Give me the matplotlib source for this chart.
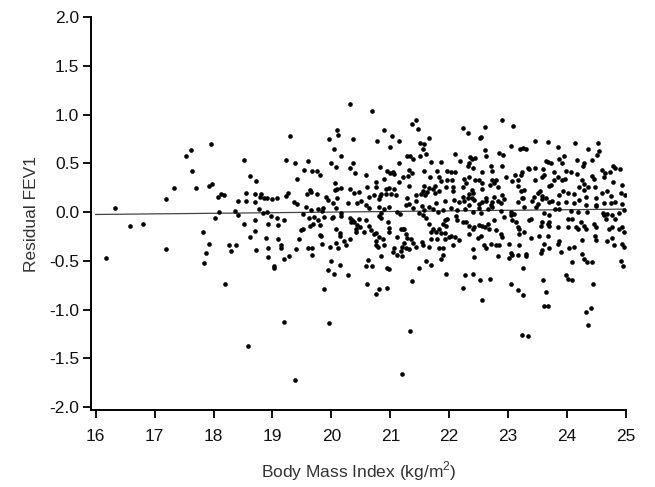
import numpy as np
import matplotlib
matplotlib.use("Agg")
import matplotlib.pyplot as plt

plt.rcParams['font.family'] = ['Liberation Sans', 'DejaVu Sans']
plt.rcParams['mathtext.fontset'] = 'custom'
plt.rcParams['mathtext.rm'] = 'Liberation Sans'

# points, grouped by region
bmi_a = [17.95, 17.61, 17.53, 17.63, 17.33, 17.71, 17.93, 17.98, 18.51, 18.62,
         18.72, 18.55, 18.71, 18.80, 18.79, 18.86, 18.91, 18.12, 18.18, 18.08,
         17.20, 16.33, 16.58, 16.81, 16.17, 17.20, 17.82, 17.92, 17.87, 17.83,
         18.19, 18.02, 18.09, 18.42, 18.55, 18.37, 18.41, 18.52, 18.27, 18.38,
         18.29, 18.70, 18.71, 18.62, 18.72, 18.71, 18.77, 18.84, 18.90, 18.92,
         18.89, 18.92, 18.93, 18.59]
resid_a = [0.70, 0.64, 0.57, 0.42, 0.25, 0.25, 0.27, 0.29, 0.53, 0.37,
           0.32, 0.20, 0.19, 0.19, 0.15, 0.14, 0.14, 0.19, 0.17, 0.15,
           0.13, 0.04, -0.14, -0.12, -0.47, -0.38, -0.20, -0.33, -0.42, -0.52,
           -0.74, -0.06, 0.00, 0.11, 0.11, 0.01, -0.03, -0.12, -0.34, -0.34,
           -0.40, -0.08, -0.19, -0.26, -0.39, 0.10, 0.03, -0.01, 0.00, -0.12,
           -0.27, -0.37, -0.46, -1.37]

bmi_b = [20.31, 20.69, 19.29, 19.96, 20.10, 20.12, 20.36, 20.04, 20.16, 20.89,
         21.03, 21.14, 20.77, 20.99, 21.37, 21.43, 21.47, 21.50, 21.57, 21.56,
         21.61, 21.66, 21.51, 19.23, 19.39, 19.53, 19.61, 19.67, 19.76, 19.80,
         19.42, 19.99, 20.08, 20.31, 20.37, 20.40, 20.59, 20.83, 20.94, 20.99,
         21.04, 21.07, 21.15, 21.28, 21.33, 21.38, 21.31, 21.22, 21.30, 21.37,
         21.58, 21.69, 21.86, 21.68, 21.79, 21.82, 21.86, 21.97, 21.96, 20.90,
         21.14, 20.06, 20.17, 20.10, 20.06, 20.32, 20.39, 20.46, 20.61, 20.76,
         20.76, 20.92, 20.98, 21.06, 21.02, 20.93, 20.85, 21.58, 21.65, 21.72,
         21.76, 21.56, 21.63, 21.75, 21.83, 21.94, 21.31, 19.26, 19.23, 19.63,
         19.66, 19.58, 19.75, 19.91, 20.10, 20.63, 20.72, 20.83, 20.80, 21.10,
         21.28, 21.44, 21.52, 21.59, 19.08, 18.99]
resid_b = [1.11, 1.04, 0.78, 0.75, 0.84, 0.79, 0.75, 0.65, 0.57, 0.84,
           0.78, 0.73, 0.73, 0.67, 0.90, 0.94, 0.85, 0.71, 0.70, 0.65,
           0.60, 0.76, 0.57, 0.53, 0.50, 0.43, 0.52, 0.42, 0.42, 0.38,
           0.34, 0.50, 0.46, 0.45, 0.50, 0.40, 0.38, 0.46, 0.42, 0.40,
           0.41, 0.39, 0.50, 0.57, 0.57, 0.54, 0.43, 0.36, 0.37, 0.40,
           0.42, 0.51, 0.51, 0.36, 0.42, 0.36, 0.32, 0.42, 0.33, 0.34,
           0.31, 0.30, 0.25, 0.24, 0.23, 0.24, 0.20, 0.21, 0.26, 0.31,
           0.26, 0.24, 0.25, 0.24, 0.19, 0.18, 0.18, 0.27, 0.25, 0.24,
           0.27, 0.22, 0.21, 0.20, 0.22, 0.26, 0.27, 0.20, 0.16, 0.23,
           0.21, 0.19, 0.19, 0.15, 0.14, 0.15, 0.17, 0.16, 0.13, 0.17,
           0.14, 0.17, 0.19, 0.17, 0.14, 0.13]

bmi_c = [22.89, 23.08, 22.24, 22.31, 22.60, 22.54, 22.52, 23.04, 23.45, 23.68,
         23.85, 24.13, 24.53, 24.55, 24.51, 24.36, 22.60, 22.85, 22.92, 23.20,
         23.25, 23.31, 22.10, 22.18, 22.36, 22.39, 22.44, 22.34, 22.32, 22.41,
         22.63, 22.55, 22.71, 22.72, 22.89, 23.45, 23.33, 23.35, 23.59, 23.65,
         23.68, 23.72, 23.86, 23.94, 23.92, 23.78, 24.17, 24.29, 24.27, 24.43,
         24.60, 24.65, 24.73, 24.81, 24.89, 24.78, 22.03, 22.10, 22.25, 22.34,
         22.44, 22.51, 22.55, 22.29, 22.23, 22.05, 22.07, 22.06, 22.38, 22.41,
         22.34, 22.55, 22.69, 22.73, 22.80, 22.76, 22.83, 22.90, 22.97, 23.07,
         23.11, 23.17, 23.21, 23.23, 23.16, 23.22, 23.27, 23.46, 23.58, 23.61,
         23.69, 23.72, 23.54, 23.50, 23.57, 23.78, 23.84, 23.92, 23.97, 23.99,
         24.06, 24.17, 23.93, 24.02, 24.11, 23.86, 24.20, 24.29, 24.36, 24.47,
         24.42, 24.46, 24.29, 24.25, 24.63, 24.60, 24.68, 24.78, 24.94, 24.92,
         24.98, 24.74, 24.49, 24.32, 22.23, 22.31, 22.39, 22.62, 22.76, 23.25,
         23.44, 23.64]
resid_c = [0.94, 0.88, 0.86, 0.81, 0.87, 0.77, 0.76, 0.68, 0.73, 0.72,
           0.67, 0.71, 0.71, 0.63, 0.58, 0.65, 0.64, 0.61, 0.59, 0.65,
           0.66, 0.65, 0.60, 0.52, 0.56, 0.54, 0.55, 0.50, 0.47, 0.45,
           0.57, 0.41, 0.47, 0.42, 0.47, 0.45, 0.45, 0.44, 0.44, 0.52,
           0.51, 0.50, 0.54, 0.57, 0.50, 0.41, 0.53, 0.50, 0.47, 0.53,
           0.43, 0.40, 0.41, 0.45, 0.44, 0.47, 0.41, 0.41, 0.34, 0.36,
           0.33, 0.33, 0.30, 0.30, 0.26, 0.33, 0.26, 0.22, 0.23, 0.20,
           0.19, 0.24, 0.28, 0.33, 0.33, 0.30, 0.26, 0.17, 0.36, 0.32,
           0.38, 0.33, 0.38, 0.41, 0.27, 0.22, 0.23, 0.33, 0.36, 0.38,
           0.27, 0.28, 0.22, 0.20, 0.16, 0.33, 0.36, 0.33, 0.34, 0.42,
           0.41, 0.39, 0.22, 0.20, 0.19, 0.17, 0.26, 0.23, 0.26, 0.26,
           0.37, 0.34, 0.29, 0.33, 0.36, 0.20, 0.22, 0.31, 0.28, 0.20,
           0.17, 0.16, 0.14, 0.15, 0.15, 0.14, 0.14, 0.14, 0.15, 0.14,
           0.15, 0.14]

bmi_d = [19.36, 19.41, 19.57, 19.66, 19.77, 19.84, 19.85, 19.95, 20.02, 20.08,
         20.17, 20.02, 20.28, 20.43, 20.51, 20.59, 20.64, 20.81, 20.90, 20.97,
         21.12, 21.17, 21.26, 21.31, 21.38, 21.43, 21.53, 21.58, 21.65, 21.72,
         21.77, 21.81, 21.89, 21.93, 18.98, 19.07, 19.20, 19.09, 19.51, 19.62,
         19.71, 19.77, 19.64, 19.51, 19.49, 19.80, 19.68, 19.88, 20.01, 20.16,
         20.31, 20.35, 20.33, 20.47, 20.43, 20.41, 20.59, 20.56, 20.64, 20.67,
         20.81, 20.84, 20.84, 20.96, 20.97, 20.73, 20.76, 20.98, 20.81, 20.87,
         20.75, 20.79, 20.90, 20.76, 21.18, 21.21, 21.24, 21.12, 21.27, 21.29,
         21.35, 21.24, 21.20, 21.27, 21.32, 21.18, 21.07, 21.04, 21.11, 21.20,
         21.38, 21.43, 21.49, 21.56, 21.61, 21.65, 21.72, 21.69, 21.77, 21.83,
         21.92, 21.89, 21.97, 21.94, 21.86, 21.93, 22.00, 21.54, 21.56, 21.66,
         21.69, 21.80, 21.83, 21.92, 21.90, 21.89, 21.86, 21.94, 19.03, 19.03,
         19.20, 19.28, 19.40, 19.45, 19.09, 19.15, 19.15, 19.60, 19.67, 19.67,
         19.84, 19.97, 20.07, 20.11, 20.22, 20.24, 20.31, 19.80, 19.83, 20.08,
         20.14, 20.15, 20.42, 20.49, 20.39, 19.99, 20.04, 20.14, 19.95, 20.29,
         20.58, 20.62, 20.69, 20.94, 20.97, 20.84, 20.61, 20.81, 20.95, 20.75,
         19.88, 21.37, 21.49, 21.61, 21.69, 19.20, 19.96, 21.33, 19.38, 21.20]
resid_d = [0.10, 0.08, 0.05, 0.02, 0.03, 0.01, 0.04, 0.12, 0.09, 0.04,
           -0.01, -0.05, 0.09, 0.09, 0.11, 0.07, 0.04, 0.05, 0.03, 0.05,
           0.00, -0.02, 0.07, 0.08, 0.04, 0.11, 0.06, 0.02, 0.05, 0.03,
           0.09, 0.00, 0.02, 0.11, -0.04, -0.06, -0.08, -0.13, -0.02, -0.06,
           -0.05, -0.08, -0.14, -0.17, -0.18, -0.13, -0.12, -0.05, -0.06, -0.04,
           -0.06, -0.08, -0.10, -0.07, -0.13, -0.17, -0.08, -0.20, -0.14, -0.18,
           -0.04, -0.01, -0.06, -0.10, -0.16, -0.23, -0.22, -0.20, -0.26, -0.28,
           -0.30, -0.36, -0.34, -0.34, -0.17, -0.17, -0.17, -0.26, -0.23, -0.27,
           -0.28, -0.32, -0.36, -0.37, -0.38, -0.40, -0.37, -0.41, -0.44, -0.45,
           -0.32, -0.36, -0.01, -0.03, -0.06, -0.12, -0.17, -0.20, -0.20, -0.17,
           -0.08, -0.12, -0.07, -0.14, -0.22, -0.21, -0.26, -0.31, -0.34, -0.36,
           -0.28, -0.28, -0.37, -0.28, -0.37, -0.44, -0.48, -0.64, -0.55, -0.57,
           -0.48, -0.45, -0.38, -0.28, -0.28, -0.34, -0.37, -0.37, -0.37, -0.44,
           -0.33, -0.36, -0.32, -0.37, -0.30, -0.34, -0.28, -0.24, -0.25, -0.17,
           -0.21, -0.25, -0.20, -0.15, -0.10, -0.50, -0.64, -0.54, -0.59, -0.65,
           -0.55, -0.49, -0.55, -0.57, -0.58, -0.45, -0.74, -0.79, -0.78, -0.84,
           -0.79, -0.71, -0.57, -0.50, -0.54, -1.13, -1.14, -1.22, -1.72, -1.66]

bmi_e = [22.08, 22.17, 22.25, 22.34, 22.42, 22.51, 22.56, 22.62, 22.71, 22.73,
         22.82, 22.88, 22.93, 23.16, 23.24, 23.41, 23.50, 23.58, 23.69, 23.75,
         23.84, 23.98, 24.12, 24.20, 24.32, 24.49, 24.63, 24.74, 24.82, 24.94,
         22.03, 22.14, 22.27, 22.40, 22.51, 22.54, 22.65, 22.73, 22.88, 23.05,
         23.10, 23.27, 23.47, 23.61, 23.69, 23.80, 23.86, 24.06, 24.18, 24.34,
         24.49, 24.61, 24.68, 24.77, 24.88, 24.97, 22.11, 22.14, 22.23, 22.28,
         22.34, 22.42, 22.40, 22.51, 22.56, 22.61, 22.65, 22.68, 22.76, 22.79,
         22.93, 23.05, 23.07, 23.13, 23.16, 23.19, 23.27, 23.36, 23.38, 23.55,
         23.58, 23.67, 23.69, 23.69, 23.84, 24.01, 24.02, 24.09, 24.15, 24.18,
         24.23, 24.29, 24.32, 24.46, 24.49, 24.63, 24.66, 24.71, 24.77, 24.82,
         24.88, 24.94, 24.97, 22.03, 22.10, 22.17, 22.06, 22.34, 22.48, 22.54,
         22.59, 22.62, 22.71, 22.79, 22.85, 22.40, 22.42, 22.82, 22.90, 22.88,
         23.02, 23.05, 23.07, 23.16, 23.19, 23.19, 23.30, 23.31, 23.38, 23.53,
         23.61, 23.67, 23.69, 23.55, 23.58, 23.84, 23.86, 23.89, 24.03, 24.12,
         24.09, 24.26, 24.26, 24.29, 24.34, 24.43, 24.47, 24.49, 24.68, 24.76,
         24.80, 24.94, 24.97, 24.91, 24.95, 23.25, 23.02, 22.27, 22.40, 22.52,
         22.69, 22.24, 22.55, 23.05, 23.16, 23.25, 23.59, 23.64, 23.98, 24.01,
         24.09, 24.44, 23.60, 23.67, 24.32, 24.40, 24.36, 23.24, 23.34]
resid_e = [0.12, 0.10, 0.11, 0.07, 0.12, 0.08, 0.10, 0.11, 0.07, 0.10,
           0.11, 0.09, 0.13, 0.10, 0.14, 0.11, 0.08, 0.13, 0.10, 0.11,
           0.09, 0.10, 0.09, 0.12, 0.07, 0.07, 0.09, 0.09, 0.10, 0.08,
           0.04, 0.02, 0.03, 0.00, 0.04, -0.01, 0.03, 0.05, 0.01, 0.00,
           -0.02, 0.05, 0.05, -0.01, -0.03, 0.03, 0.03, 0.01, 0.00, 0.00,
           0.06, -0.01, -0.02, -0.03, -0.01, 0.02, -0.04, -0.08, -0.10, -0.10,
           -0.14, -0.15, -0.17, -0.13, -0.14, -0.15, -0.12, -0.17, -0.08, -0.18,
           -0.05, -0.03, -0.08, -0.10, -0.15, -0.17, -0.20, -0.08, -0.07, -0.14,
           -0.10, -0.12, -0.10, -0.14, -0.15, -0.07, -0.15, -0.07, -0.15, -0.17,
           -0.10, -0.14, -0.17, -0.12, -0.15, -0.03, -0.07, -0.17, -0.15, -0.07,
           -0.17, -0.15, -0.20, -0.25, -0.26, -0.29, -0.34, -0.23, -0.27, -0.25,
           -0.34, -0.37, -0.33, -0.34, -0.34, -0.38, -0.46, -0.45, -0.26, -0.23,
           -0.33, -0.42, -0.44, -0.44, -0.34, -0.23, -0.43, -0.45, -0.27, -0.25,
           -0.33, -0.25, -0.37, -0.42, -0.39, -0.33, -0.30, -0.41, -0.37, -0.36,
           -0.51, -0.43, -0.29, -0.48, -0.51, -0.51, -0.25, -0.29, -0.30, -0.27,
           -0.34, -0.33, -0.36, -0.50, -0.55, -0.57, -0.47, -0.65, -0.64, -0.70,
           -0.69, -0.78, -0.90, -0.74, -0.80, -0.85, -0.70, -0.82, -0.65, -0.69,
           -0.70, -0.74, -0.96, -0.96, -1.03, -0.98, -1.16, -1.26, -1.27]

# regression line end points
fit_x = [16.0, 25.0]
fit_y = [-0.025, 0.03]

xticks = [16, 17, 18, 19, 20, 21, 22, 23, 24, 25]
yticks = [-2.0, -1.5, -1.0, -0.5, 0.0, 0.5, 1.0, 1.5, 2.0]

bmi = np.array(bmi_a + bmi_b + bmi_c + bmi_d + bmi_e)
resid = np.array(resid_a + resid_b + resid_c + resid_d + resid_e)

fig = plt.figure(figsize=(6.55, 4.87), dpi=100)
# plot box: y spine from 2.0 down to just under -2.0
ax = fig.add_axes([91 / 655, 1 - 410 / 487, 535 / 655, 393 / 487])

ax.plot(fit_x, fit_y, color='#444444', lw=0.9, zorder=1)
ax.scatter(bmi, resid, s=11, color='black', linewidths=0, zorder=2)

ax.set_xlim(15.92, 25.0)
ax.set_ylim(-2.03, 2.0)
ax.set_xticks(xticks)
ax.set_yticks(yticks)
ax.set_yticklabels(['%.1f' % v for v in yticks])

for s in ['top', 'right']:
    ax.spines[s].set_visible(False)
for s in ['left', 'bottom']:
    ax.spines[s].set_linewidth(1.4)
ax.tick_params(direction='out', length=5.5, width=1.4, labelsize=12.5,
               colors='#111111')
ax.tick_params(axis='y', pad=3)
ax.tick_params(axis='x', pad=8)

ax.set_xlabel('Body Mass Index (kg/m$^2$)', fontsize=12.5, color='#333333', labelpad=11)
ax.set_ylabel('Residual FEV1', fontsize=12.5, color='#333333', labelpad=7)

fig.savefig('out.png', dpi=100)
